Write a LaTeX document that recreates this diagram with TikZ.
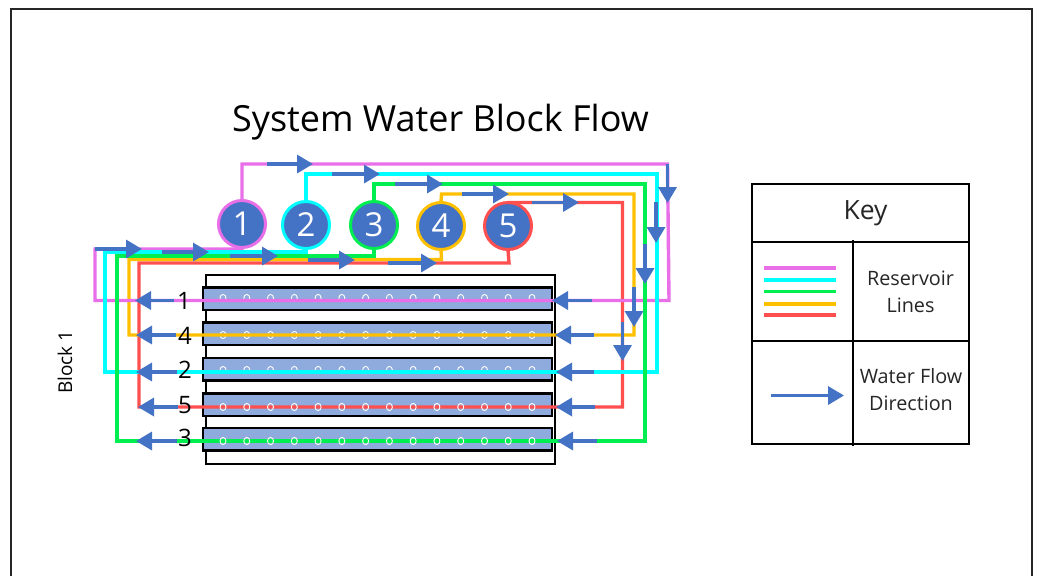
\documentclass[tikz,border=0pt]{standalone}
\usepackage{fontspec}
\setmainfont{Open Sans}
\usetikzlibrary{arrows.meta}
\definecolor{cpink}{HTML}{E86FE8}
\definecolor{ccyan}{HTML}{00FFFF}
\definecolor{cgreen}{HTML}{00EE50}
\definecolor{corange}{HTML}{FFC000}
\definecolor{cred}{HTML}{FF4F4F}
\definecolor{cblue}{HTML}{4472C4}
\definecolor{crow}{HTML}{8FAADC}
\newcommand{\flowarrow}[5]{%
  \coordinate (#1s) at (#2,#3);\coordinate (#1e) at (#4,#5);
  \draw[flowline] (#1s) -- (#1e);}
\tikzset{
  x=1pt,y=-1pt,
  outer sep=0pt,
  pipe/.style={line width=3.4pt,line join=miter},
  flowline/.style={line width=3.4pt,cblue,-{Triangle[length=16pt,width=18pt]}},
  res/.style={circle,fill=cblue,line width=3pt,minimum size=47pt,inner sep=0pt,text=white,font=\fontsize{33}{33}\selectfont},
  rowbox/.style={draw=black,line width=2.8pt,fill=crow,minimum width=349pt,minimum height=22.5pt,inner sep=0pt,anchor=north west},
  rowlabel/.style={font=\fontsize{24}{24}\selectfont,inner sep=0pt},
  hole/.style={draw=white,line width=0.9pt,x radius=3pt,y radius=3.6pt},
  keytext/.style={align=center,inner sep=0pt,font=\fontsize{19.8}{27}\selectfont,text=black!85},
  keyrule/.style={line width=1.2pt,black}
}
\begin{document}
\begin{tikzpicture}
\useasboundingbox (0,0) rectangle (1040,576);
\fill[white] (0,0) rectangle (1040,576);
\coordinate (f1) at (11,576);\coordinate (f2) at (11,9);\coordinate (f3) at (1032,9);\coordinate (f4) at (1032,576);
\draw[line width=1.8pt,black!85] (f1) -- (f2) -- (f3) -- (f4);
\node[font=\fontsize{36}{36}\selectfont,inner sep=0pt] (title) at (440.5,122.5) {System Water Block Flow};

% block
\node[draw=black,line width=2pt,minimum width=349pt,minimum height=189pt,inner sep=0pt,anchor=north west] (block) at (206,275) {};
\node[rowbox] (r1) at (203,287.5) {};
\node[rowbox] (r4) at (203,322.5) {};
\node[rowbox] (r2) at (203,358) {};
\node[rowbox] (r5) at (203,393.5) {};
\node[rowbox] (r3) at (203,428) {};
\foreach \yy in {298,335,370}{
  \foreach \i in {0,...,13}{\draw[hole] (223+23.77*\i,\yy) circle[];}
}
% circles
\node[res,draw=cpink] (c1) at (242,224) {1};
\node[res,draw=ccyan] (c2) at (306,225) {2};
\node[res,draw=cgreen] (c3) at (374,225) {3};
\node[res,draw=corange] (c4) at (441,226) {4};
\node[res,draw=cred] (c5) at (508,226) {5};

% reservoir lines
\draw[pipe,cred] (c5.north) -- (508,202.5) -- (622.5,202.5) -- (622.5,407) -- (139,407) -- (139,263) -- (509,263) -- (c5.south);
\draw[pipe,corange] (c4.north) -- (441.5,194) -- (634,194) -- (634,335) -- (129,335) -- (129,259.5) -- (441.5,259.5) -- (c4.south);
\draw[pipe,cpink] (c1.north) -- (242,164) -- (667.5,164) -- (669,300.5) -- (95,300.5) -- (95,249) -- (242,249) -- (c1.south);
\draw[pipe,ccyan] (c2.north) -- (306,174) -- (657,174) -- (657,372) -- (105,372) -- (105,252) -- (306,252) -- (c2.south);
\draw[pipe,cgreen] (c3.north) -- (374,184) -- (645,184) -- (645,441) -- (117,441) -- (117,256) -- (374,256) -- (c3.south);
\foreach \yy in {407,441}{
  \foreach \i in {0,...,13}{\draw[hole] (223+23.77*\i,\yy) circle[];}
}

% row labels
\node[rowlabel] (l1) at (184,300.5) {1};
\node[rowlabel] (l4) at (185,336) {4};
\node[rowlabel] (l2) at (185,370) {2};
\node[rowlabel] (l5) at (185,405) {5};
\node[rowlabel] (l3) at (185,438) {3};
\node[rotate=90,font=\fontsize{19}{19}\selectfont,inner sep=0pt] (blocklabel) at (65,362) {Block 1};

% flow arrows
\flowarrow{a1}{267}{164}{313}{164}
\flowarrow{a2}{332}{174}{380}{174}
\flowarrow{a3}{395}{184}{443}{184}
\flowarrow{a4}{462}{194}{509}{194}
\flowarrow{a5}{532}{202.5}{579}{202.5}
\flowarrow{b1}{95}{249}{142}{249}
\flowarrow{b2}{162}{252}{209}{252}
\flowarrow{b3}{230}{256}{278}{256}
\flowarrow{b4}{308}{260}{355}{260}
\flowarrow{b5}{388}{263}{437}{263}
\flowarrow{d1}{667.5}{164}{667.5}{203}
\flowarrow{d2}{656}{202}{656}{243}
\flowarrow{d3}{645}{244}{645}{284}
\flowarrow{d4}{634}{287}{634}{327}
\flowarrow{d5}{622.5}{322}{622.5}{361}
\flowarrow{e1}{592}{300.5}{552}{300.5}
\flowarrow{e2}{594}{335}{555}{335}
\flowarrow{e3}{594}{372}{556}{372}
\flowarrow{e4}{595}{407}{556}{407}
\flowarrow{e5}{597}{441}{557}{441}
\flowarrow{w1}{174}{300.5}{135}{300.5}
\flowarrow{w2}{176}{335}{136}{335}
\flowarrow{w3}{177}{372}{136}{372}
\flowarrow{w4}{178}{407}{138}{407}
\flowarrow{w5}{177}{441}{136}{441}

% key
\node[draw=black,line width=2.4pt,minimum width=217pt,minimum height=260pt,inner sep=0pt,anchor=north west] (key) at (752,184) {};
\draw[keyrule] (752,242) -- (969,242);
\draw[keyrule] (752,341) -- (969,341);
\draw[keyrule] (853,240) -- (853,446);
\node[font=\fontsize{26.5}{26.5}\selectfont,inner sep=0pt,text=black!85] (keytitle) at (865.5,213) {Key};
\node[keytext] (keyres) at (910.5,291.5) {Reservoir\\Lines};
\node[keytext] (keywater) at (911,389.5) {Water Flow\\Direction};
\draw[pipe,cpink] (764,268) -- (836,268);
\draw[pipe,ccyan] (764,280) -- (836,280);
\draw[pipe,cgreen] (764,291.5) -- (836,291.5);
\draw[pipe,corange] (764,304) -- (836,304);
\draw[pipe,cred] (764,315) -- (836,315);
\flowarrow{k}{771}{395.5}{844}{395.5}
\end{tikzpicture}
\end{document}
